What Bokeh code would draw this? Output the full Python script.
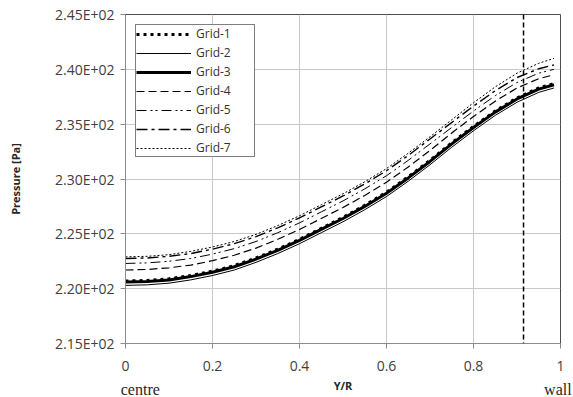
from bokeh.plotting import figure
from bokeh.models import FixedTicker, Span, Legend, LegendItem, LinearAxis
from bokeh.embed import file_html
from bokeh.resources import INLINE

# ---- data ----
yr = [0, 0.05, 0.1, 0.15, 0.2, 0.25, 0.3, 0.35, 0.4, 0.45, 0.5, 0.55, 0.6, 0.65, 0.7, 0.75, 0.8, 0.85, 0.9, 0.95, 0.985]
grid1 = [220.70, 220.75, 220.90, 221.20, 221.60, 222.10, 222.80, 223.60, 224.50, 225.50, 226.50, 227.60, 228.80, 230.20, 231.70, 233.30, 234.80, 236.20, 237.40, 238.30, 238.70]
grid2 = [220.30, 220.35, 220.50, 220.80, 221.20, 221.70, 222.40, 223.20, 224.10, 225.10, 226.10, 227.20, 228.40, 229.80, 231.30, 232.90, 234.40, 235.80, 237.00, 237.90, 238.30]
grid3 = [220.60, 220.65, 220.80, 221.10, 221.50, 222.00, 222.70, 223.50, 224.40, 225.40, 226.40, 227.50, 228.70, 230.10, 231.60, 233.20, 234.70, 236.10, 237.30, 238.20, 238.60]
grid4 = [221.70, 221.75, 221.90, 222.15, 222.55, 223.05, 223.70, 224.50, 225.40, 226.40, 227.40, 228.50, 229.70, 231.10, 232.60, 234.20, 235.70, 237.10, 238.30, 239.15, 239.50]
grid5 = [222.30, 222.35, 222.50, 222.75, 223.15, 223.65, 224.30, 225.10, 226.00, 227.00, 228.00, 229.10, 230.30, 231.70, 233.20, 234.70, 236.20, 237.60, 238.80, 239.65, 240.00]
grid6 = [222.75, 222.80, 222.95, 223.20, 223.60, 224.10, 224.75, 225.55, 226.45, 227.45, 228.45, 229.55, 230.75, 232.15, 233.65, 235.15, 236.65, 238.05, 239.25, 240.05, 240.40]
grid7 = [222.90, 222.95, 223.10, 223.40, 223.80, 224.30, 224.95, 225.75, 226.65, 227.65, 228.65, 229.75, 230.95, 232.35, 233.85, 235.40, 236.95, 238.40, 239.65, 240.55, 241.00]
series_names = ["Grid-1", "Grid-2", "Grid-3", "Grid-4", "Grid-5", "Grid-6", "Grid-7"]
series_values = [grid1, grid2, grid3, grid4, grid5, grid6, grid7]

xticks = [0, 0.2, 0.4, 0.6, 0.8, 1]
xtick_labels = ["0", "0.2", "0.4", "0.6", "0.8", "1"]
yticks = [215, 220, 225, 230, 235, 240, 245]
ytick_labels = ["2.15E+02", "2.20E+02", "2.25E+02", "2.30E+02", "2.35E+02", "2.40E+02", "2.45E+02"]
wall_marker = 0.915
end_labels = ["centre", "wall"]

# ---- styles ----
styles = [
    dict(line_width=3, line_dash="3 4"),
    dict(line_width=1, line_dash="solid"),
    dict(line_width=3, line_dash="solid"),
    dict(line_width=1.2, line_dash="8 4"),
    dict(line_width=1, line_dash="10 4 2 3 2 4"),
    dict(line_width=1.4, line_dash="11 4 3 4"),
    dict(line_width=1, line_dash="2 2"),
]

FONT = "Open Sans"

p = figure(width=573, height=397, x_range=(0, 1), y_range=(215, 245),
           output_backend="svg", toolbar_location=None,
           min_border_left=125, min_border_right=13, min_border_top=14, min_border_bottom=54)

items = []
for name, vals, st in zip(series_names, series_values, styles):
    r = p.line(yr, vals, line_color="black", line_cap="butt", **st)
    items.append(LegendItem(label=name, renderers=[r]))

p.add_layout(Span(location=wall_marker, dimension="height", line_color="black",
                  line_dash="5 3", line_width=1.5))

legend = Legend(items=items, location="top_left")
legend.margin = 10
legend.padding = 0
legend.spacing = 2
legend.label_height = 14
legend.glyph_height = 14
legend.glyph_width = 55
legend.label_width = 58
legend.label_standoff = 5
legend.label_text_font = FONT
legend.label_text_font_size = "12px"
legend.label_text_color = "#333333"
legend.border_line_color = "black"
legend.border_line_width = 1
legend.background_fill_alpha = 1
p.add_layout(legend, "center")

# axes
p.xaxis.ticker = FixedTicker(ticks=xticks)
p.xaxis.major_label_overrides = dict(zip(xticks, xtick_labels))
p.yaxis.ticker = FixedTicker(ticks=yticks)
p.yaxis.major_label_overrides = dict(zip(yticks, ytick_labels))
for ax in (p.xaxis, p.yaxis):
    ax.axis_line_color = "#8c8c8c"
    ax.major_tick_line_color = "#8c8c8c"
    ax.major_tick_out = 5
    ax.major_tick_in = 0
    ax.minor_tick_line_color = None
    ax.major_label_text_font = FONT
    ax.major_label_text_font_size = "14px"
    ax.major_label_text_color = "#404040"
    ax.axis_label_text_font = FONT
    ax.axis_label_text_font_style = "bold"
    ax.axis_label_text_font_size = "11px"
    ax.axis_label_text_color = "#262626"
p.yaxis.axis_label = "Pressure [Pa]"
p.xaxis.major_label_standoff = 12
p.yaxis.major_label_standoff = 6
p.yaxis.axis_label_standoff = 29

# second bottom axis: "centre" / "wall" end labels plus the "Y/R" title
end_pos = [0.034, 0.994]
ax2 = LinearAxis(ticker=FixedTicker(ticks=end_pos),
                 major_label_overrides=dict(zip(end_pos, end_labels)),
                 axis_line_color=None, major_tick_line_color=None,
                 minor_tick_line_color=None, major_tick_out=0, major_tick_in=0,
                 major_label_standoff=7,
                 major_label_text_font="Liberation Serif",
                 major_label_text_font_size="16px",
                 major_label_text_color="#262626",
                 axis_label="Y/R", axis_label_standoff=-23,
                 axis_label_text_font=FONT, axis_label_text_font_style="bold",
                 axis_label_text_font_size="11px", axis_label_text_color="#262626")
p.add_layout(ax2, "below")

p.xgrid.ticker = FixedTicker(ticks=xticks)
p.ygrid.ticker = FixedTicker(ticks=yticks)
p.xgrid.grid_line_color = "#c8c8c8"
p.ygrid.grid_line_color = "#c8c8c8"
p.outline_line_color = "#4d4d4d"
p.outline_line_width = 1

open("out.html", "w").write(file_html(p, INLINE))
